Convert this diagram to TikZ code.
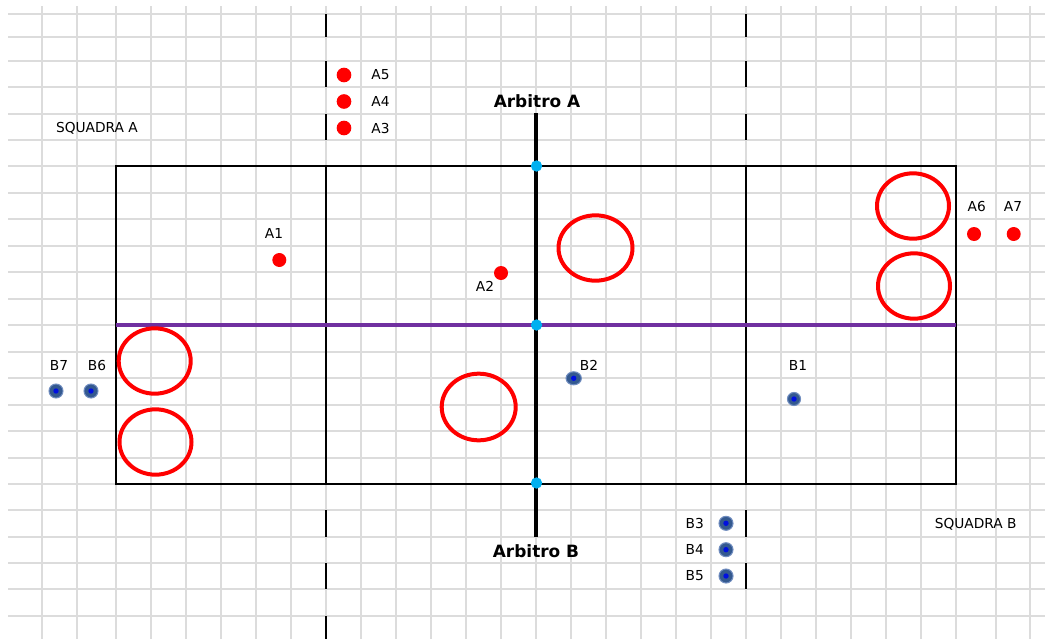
\documentclass[tikz,border=0pt]{standalone}
\usepackage{fontspec}
\setmainfont{DejaVu Sans}
\usetikzlibrary{shapes.geometric}
\definecolor{gridc}{HTML}{DCDCDC}
\definecolor{purp}{HTML}{7030A0}
\definecolor{cyanc}{HTML}{00B0F0}
\definecolor{bdark}{HTML}{34598F}
\definecolor{bedge}{HTML}{6F8CBF}
\definecolor{bcore}{HTML}{0010E0}
\definecolor{redc}{HTML}{FF0000}
\begin{document}
\begin{tikzpicture}[x=0.75pt,y=-0.75pt,
  gridline/.style={draw=gridc,line width=0.9pt},
  court/.style={draw=black,line width=1.9pt},
  divider/.style={draw=black,line width=1.1pt},
  midline/.style={draw=black,line width=3pt},
  netline/.style={draw=purp,line width=2.6pt},
  refdot/.style={circle,fill=cyanc,inner sep=0pt,minimum size=8.5pt},
  redp/.style={circle,fill=redc,inner sep=0pt,minimum size=11pt},
  bluep/.style={circle,fill=bdark,draw=bedge,line width=0.8pt,inner sep=0pt,minimum size=10.5pt,
    path picture={\fill[bcore] (path picture bounding box.center) circle (2.7);}},
  ring/.style={ellipse,draw=redc,line width=3pt,inner sep=0pt,minimum width=54pt,minimum height=49pt},
  lbl/.style={inner sep=0pt,font=\fontsize{10.3}{12}\selectfont},
  arb/.style={inner sep=0pt,font=\fontsize{12.7}{15}\selectfont\bfseries}
]
\useasboundingbox (0,0) rectangle (1045,639);
\fill[white] (0,0) rectangle (1045,639);
% spreadsheet grid
\foreach \x in {42,77,116,151,186,221,256,291,326,361,396,431,466,501,536,571,606,641,676,711,746,781,816,851,886,921,956,996,1030}
  \draw[gridline] (\x,6) -- (\x,639);
\foreach \y in {14,37,61,87,114,140,166,193,219,246,272,299,325,352,378,405,431,458,484,510,537,563,589,616}
  \draw[gridline] (8,\y) -- (1045,\y);
% dashed zone markers outside the court
\foreach \a/\b in {14/37,61/87,114/140,510/537,563/589,616/639}
  \draw[divider] (326,\a) -- (326,\b);
\foreach \a/\b in {14/37,61/87,114/140,510/537,563/589}
  \draw[divider] (746,\a) -- (746,\b);
% court
\coordinate (tl) at (116,166);
\coordinate (br) at (956,484);
\draw[court] (tl) rectangle (br);
\draw[divider] (326,166) -- (326,484);
\draw[divider] (746,166) -- (746,484);
\coordinate (nl) at (116,325);
\coordinate (nr) at (956,325);
\draw[netline] (nl) -- (nr);
% referees
\node[arb] (arbA) at (537,101) {Arbitro A};
\node[arb] (arbB) at (536,551) {Arbitro B};
\coordinate (ctop) at (536,113);
\coordinate (cbot) at (536,537);
\draw[midline] (ctop) -- (cbot);
\node[refdot] (r1) at (536.5,166) {};
\node[refdot] (r2) at (536.5,325) {};
\node[refdot] (r3) at (536.5,483) {};
% red rings
\node[ring] (e1) at (913,206) {};
\node[ring] (e2) at (914,286) {};
\node[ring,minimum width=55.5pt] (e3) at (595.5,248) {};
\node[ring,minimum width=55.5pt,minimum height=50pt] (e4) at (478.7,407) {};
\node[ring] (e5) at (154.7,361) {};
\node[ring] (e6) at (155.5,442) {};
% team A
\node[lbl] (sqA) at (97,128) {SQUADRA A};
\node[redp] (pA5) at (344,75) {};
\node[redp] (pA4) at (344,101.5) {};
\node[redp] (pA3) at (344,128) {};
\node[lbl] (lA5) at (380.5,75) {A5};
\node[lbl] (lA4) at (380.5,101.5) {A4};
\node[lbl] (lA3) at (380.5,128) {A3};
\node[redp,minimum size=10.5pt] (pA1) at (279.3,260) {};
\node[lbl] (lA1) at (274,233.3) {A1};
\node[redp,minimum size=10.5pt] (pA2) at (501,273) {};
\node[lbl] (lA2) at (485,286) {A2};
\node[redp,minimum size=10.5pt] (pA6) at (974,234) {};
\node[lbl] (lA6) at (976.7,206.7) {A6};
\node[redp,minimum size=10.5pt] (pA7) at (1013.7,234) {};
\node[lbl] (lA7) at (1013,206.7) {A7};
% team B
\node[lbl] (sqB) at (975.7,524) {SQUADRA B};
\node[bluep] (pB7) at (56,391) {};
\node[lbl] (lB7) at (59,365.7) {B7};
\node[bluep] (pB6) at (91,391) {};
\node[lbl] (lB6) at (97,365.7) {B6};
\node[bluep,minimum width=11.5pt,minimum height=9.8pt,ellipse] (pB2) at (573.7,378.3) {};
\node[lbl] (lB2) at (589,365.7) {B2};
\node[bluep,minimum size=9.8pt] (pB1) at (794,399) {};
\node[lbl] (lB1) at (798,365.7) {B1};
\node[bluep] (pB3) at (726,523.3) {};
\node[lbl] (lB3) at (694.7,523.3) {B3};
\node[bluep] (pB4) at (726,549.7) {};
\node[lbl] (lB4) at (694.7,549.7) {B4};
\node[bluep] (pB5) at (726,576) {};
\node[lbl] (lB5) at (694.7,576) {B5};
\end{tikzpicture}
\end{document}
